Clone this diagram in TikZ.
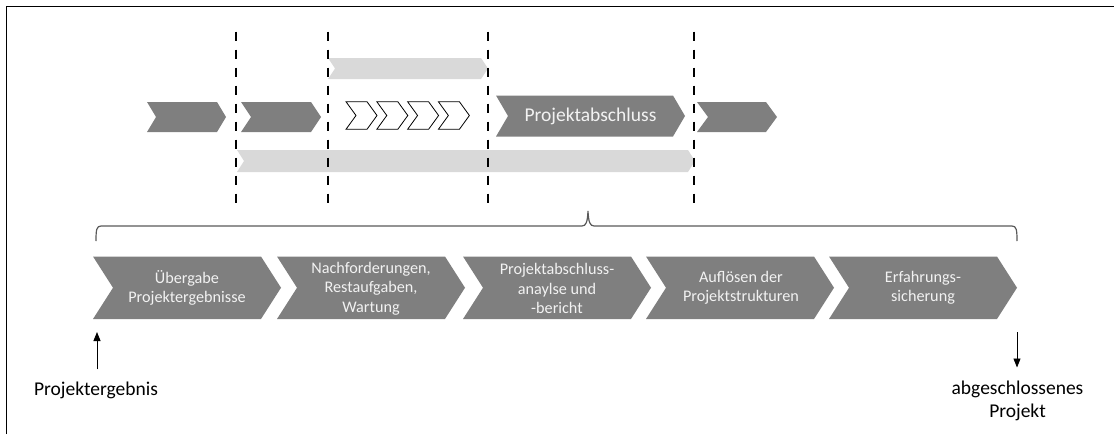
\documentclass[tikz,border=0pt]{standalone}
\usepackage{fontspec}
\setmainfont{Carlito}
\usetikzlibrary{arrows.meta}

\definecolor{chevdark}{HTML}{7F7F7F}
\definecolor{barlight}{HTML}{D9D9D9}
\definecolor{chevtextcol}{HTML}{F2F2F2}
\definecolor{bracecol}{HTML}{595959}

% chevron: [style] {left x}{top y}{length to tip}{height}{notch/tip depth}
\newcommand{\chevronshape}[6][]{%
  \path[#1] (#2,#3) -- ({#2+#4-#6},#3) -- ({#2+#4},{#3+#5/2})
    -- ({#2+#4-#6},{#3+#5}) -- (#2,{#3+#5}) -- ({#2+#6},{#3+#5/2}) -- cycle;}

\begin{document}
\begin{tikzpicture}[x=1pt,y=-1pt,
  darkchev/.style={fill=chevdark},
  lightbar/.style={fill=barlight},
  outlinechev/.style={draw=black,fill=white,line width=0.8pt,line join=miter},
  phaseline/.style={black,line width=2.2pt,dash pattern=on 9pt off 9pt},
  steptext/.style={text=chevtextcol,align=center,inner sep=0pt,
    font=\fontsize{16.2}{19.5}\selectfont},
  bigtext/.style={align=center,inner sep=0pt,
    font=\fontsize{19.5}{23}\selectfont},
  flowarrow/.style={-{Triangle[length=9pt,width=7pt]},line width=0.9pt},
  bracket/.style={draw=bracecol,line width=1.2pt}]

\useasboundingbox (0,0) rectangle (1114,434);

% frame edges
\draw[line width=1.6pt] (6.6,434) -- (6.6,6.6) -- (1114,6.6);

% overview row: light bars
\chevronshape[lightbar]{328}{58}{160}{21}{7}
\chevronshape[lightbar]{237}{150}{458}{22}{7}

% overview row: dark phase chevrons
\chevronshape[darkchev]{147}{102}{79}{30}{9}
\chevronshape[darkchev]{241}{102}{80}{30}{10}
\chevronshape[darkchev]{496}{95.5}{189}{41}{12}
\chevronshape[darkchev]{697}{102}{80}{30}{11}
\node[bigtext,text=chevtextcol] (pa) at (590.5,116.5) {Projektabschluss};

% overview row: outlined small chevrons
\foreach \i in {0,...,3}{
  \chevronshape[outlinechev]{346+30.8*\i}{101.7}{31}{27.6}{10}
}

% phase boundaries
\foreach \x in {236,328,488.3,694.3}{
  \draw[phaseline] (\x,31.7) -- (\x,205);
}

% bracket over the detail steps
\draw[bracket] (96,241) .. controls (96,230) and (96.5,226) .. (101,226)
  -- (582,226) .. controls (586,226) and (587.5,222) .. (588,211)
  .. controls (588.5,222) and (590,226) .. (594,226)
  -- (1012,226) .. controls (1016.5,226) and (1017,230) .. (1017,241);

% detail steps
\foreach \x in {93,277,463,646,829}{
  \chevronshape[darkchev]{\x}{256.5}{188}{62.5}{20}
}
\node[steptext] (s1) at (187,288) {Übergabe\\Projektergebnisse};
\node[steptext] (s2) at (371,288.5) {Nachforderungen,\\Restaufgaben,\\Wartung};
\node[steptext] (s3) at (557,288.5) {Projektabschluss-\\anaylse und\\-bericht};
\node[steptext] (s4) at (741,288) {Auflösen der\\Projektstrukturen};
\node[steptext] (s5) at (923,288) {Erfahrungs-\\sicherung};

% input and output
\node[bigtext,anchor=base] (pe) at (96,395) {Projektergebnis};
\coordinate (pein) at (97,332);
\draw[flowarrow] ([xshift=1pt,yshift=12pt]pe.north) -- (pein);

\node[bigtext,anchor=north] (ap) at (1017.5,380.5) {abgeschlossenes\\Projekt};
\coordinate (apout) at (1017,332);
\draw[flowarrow] (apout) -- ([xshift=-0.5pt,yshift=13pt]ap.north);

\end{tikzpicture}
\end{document}
